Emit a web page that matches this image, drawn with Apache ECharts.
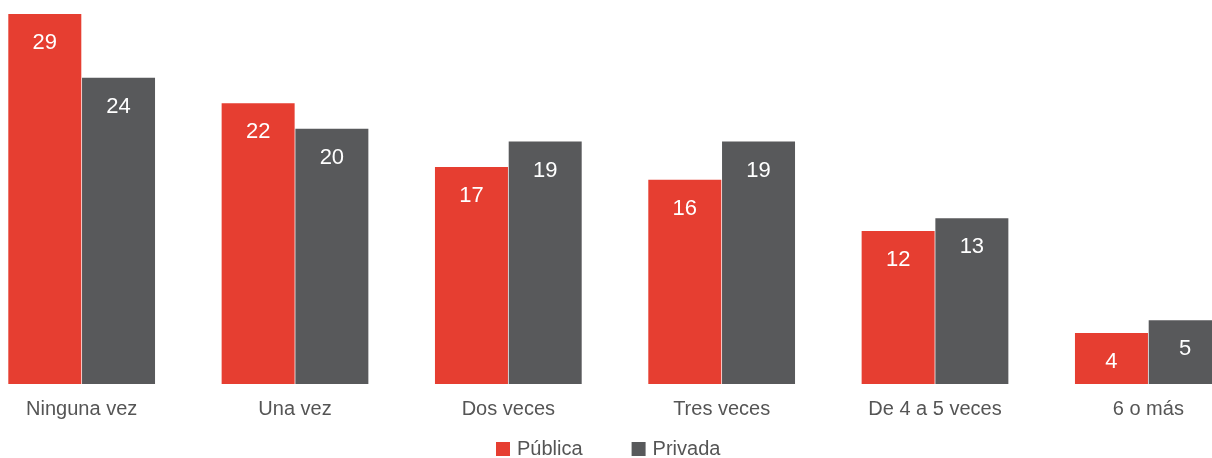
<!DOCTYPE html>
<html>
<head>
<meta charset="utf-8">
<script src="https://cdn.jsdelivr.net/npm/echarts@6/dist/echarts.min.js"></script>
<style>html,body{margin:0;padding:0;background:#fff;overflow:hidden;}#c{position:absolute;left:-25px;top:0;width:1280px;height:458px;}</style>
</head>
<body>
<div id="c"></div>
<script>
var categories = ['Ninguna vez', 'Una vez', 'Dos veces', 'Tres veces', 'De 4 a 5 veces', '6 o más'];
var publica = [29, 22, 17, 16, 12, 4];
var privada = [24, 20, 19, 19, 13, 5];
var seriesNames = ['Pública', 'Privada'];

var chart = echarts.init(document.getElementById('c'));
var font = 'Liberation Sans, Arial, Helvetica, sans-serif';
var labelCfg = {
  show: true, position: 'insideTop', distance: 18, color: '#fff',
  fontSize: 22, fontFamily: font
};
chart.setOption({
  animation: false,
  textStyle: { fontFamily: font },
  grid: { left: 0, right: 0, top: 14, bottom: 74 },
  legend: {
    top: 439, left: 521, padding: 0, itemWidth: 14, itemHeight: 14, itemGap: 49,
    icon: 'rect',
    textStyle: { fontSize: 20, color: '#555', fontFamily: font, padding: [0, 0, 0, 2] },
    data: seriesNames
  },
  xAxis: {
    type: 'category', data: categories,
    axisLine: { show: false }, axisTick: { show: false },
    axisLabel: { fontSize: 20, color: '#555', margin: 15, fontFamily: font }
  },
  yAxis: { type: 'value', min: 0, max: 29, show: false, splitLine: { show: false } },
  series: [
    { name: seriesNames[0], type: 'bar', data: publica, barWidth: 73, barGap: '1%',
      itemStyle: { color: '#E63E31' }, label: labelCfg },
    { name: seriesNames[1], type: 'bar', data: privada, barWidth: 73, barGap: '1%',
      itemStyle: { color: '#58595B' }, label: labelCfg }
  ]
});
</script>
</body>
</html>
